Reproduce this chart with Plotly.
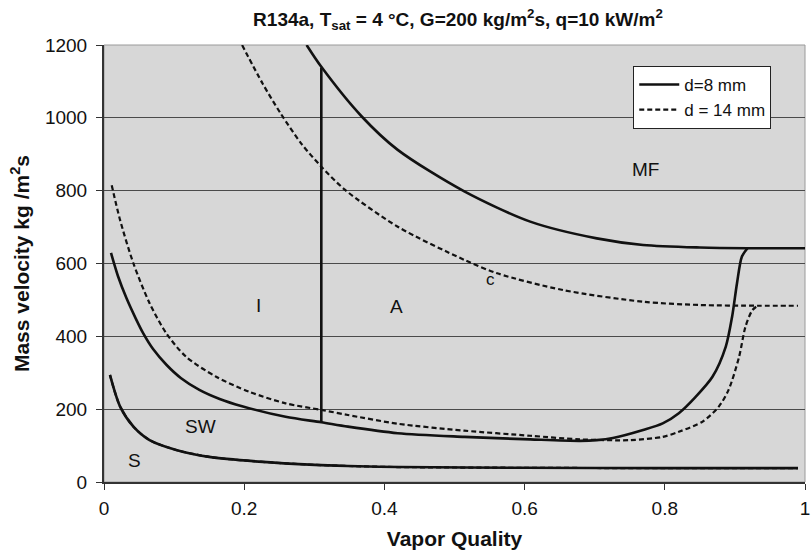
import plotly.graph_objects as go

# ---- data ----
q_sw8 = [0.010, 0.020, 0.032, 0.045, 0.056, 0.070, 0.089, 0.110, 0.136, 0.165, 0.197, 0.259, 0.310,
         0.348, 0.419, 0.514, 0.608, 0.679, 0.703, 0.726, 0.769, 0.797, 0.820, 0.844, 0.868, 0.887,
         0.896, 0.903, 0.910, 0.918]
g_sw8 = [629, 565, 505, 450, 408, 365, 322, 285, 253, 228, 208, 179, 164,
         152, 134, 124, 117, 113, 115, 121, 143, 161, 189, 234, 289, 372,
         454, 546, 619, 642]

q_mf8 = [0.289, 0.310, 0.367, 0.419, 0.514, 0.608, 0.703, 0.769, 0.850, 0.918, 1.000]
g_mf8 = [1200, 1140, 1005, 912, 798, 715, 669, 651, 644, 642, 642]

q_vert = [0.310, 0.310]
g_vert = [164, 1138]

q_sw14 = [0.011, 0.023, 0.042, 0.065, 0.089, 0.117, 0.160, 0.207, 0.259, 0.310, 0.348, 0.419,
          0.514, 0.608, 0.679, 0.750, 0.797, 0.820, 0.854, 0.877, 0.891, 0.906, 0.915, 0.925, 0.934]
g_sw14 = [815, 719, 600, 491, 408, 344, 289, 248, 216, 198, 184, 160,
          141, 127, 117, 115, 124, 138, 166, 207, 253, 344, 426, 472, 486]

q_mf14 = [0.197, 0.226, 0.252, 0.282, 0.310, 0.344, 0.419, 0.514, 0.561, 0.655, 0.769, 0.850, 0.934, 0.990]
g_mf14 = [1200, 1095, 1012, 928, 866, 802, 701, 610, 573, 527, 495, 486, 484, 484]

q_s = [0.0085, 0.023, 0.042, 0.065, 0.103, 0.150, 0.221, 0.301, 0.348, 0.420, 0.600, 0.800, 0.990]
g_s = [294, 207, 152, 115, 88, 69, 56, 47, 44, 41, 39, 38, 38]

region_labels = ["I", "A", "MF", "c", "SW", "S"]
region_q = [0.221, 0.417, 0.772, 0.551, 0.138, 0.044]
region_g = [486, 481, 857, 555, 152, 60]

x_ticks = [0, 0.2, 0.4, 0.6, 0.8, 1]
y_ticks = [0, 200, 400, 600, 800, 1000, 1200]

# ---- styling ----
INK = "#111111"
SOLID = dict(color=INK, width=2.6, shape="spline", smoothing=0.8)
DASH = dict(color=INK, width=2.2, dash="5px,3px", shape="spline", smoothing=0.8)
FONT = "Liberation Sans, Arial, sans-serif"

fig = go.Figure()
fig.add_trace(go.Scatter(x=q_s, y=g_s, mode="lines", line=SOLID, showlegend=False, hoverinfo="skip"))
fig.add_trace(go.Scatter(x=q_s, y=g_s, mode="lines", line=DASH, showlegend=False, hoverinfo="skip"))
fig.add_trace(go.Scatter(x=q_sw8, y=g_sw8, mode="lines", line=SOLID, name="d=8 mm", showlegend=True))
fig.add_trace(go.Scatter(x=q_mf8, y=g_mf8, mode="lines", line=SOLID, showlegend=False))
fig.add_trace(go.Scatter(x=q_vert, y=g_vert, mode="lines", line=dict(color=INK, width=2.6), showlegend=False))
fig.add_trace(go.Scatter(x=q_sw14, y=g_sw14, mode="lines", line=DASH, name="d = 14 mm", showlegend=True))
fig.add_trace(go.Scatter(x=q_mf14, y=g_mf14, mode="lines", line=DASH, showlegend=False))

for t, xq, yg in zip(region_labels, region_q, region_g):
    fig.add_annotation(x=xq, y=yg, text=t, showarrow=False,
                       font=dict(family=FONT, size=19 if t != "c" else 17, color=INK))

fig.update_layout(
    width=812, height=557,
    margin=dict(l=104, r=2, t=45, b=75),
    paper_bgcolor="white",
    plot_bgcolor="#d7d7d7",
    font=dict(family=FONT, size=19, color=INK),
    title=dict(text="<b>R134a, T<sub>sat</sub> = 4 °C, G=200 kg/m<sup>2</sup>s, q=10 kW/m<sup>2</sup></b>",
               x=0.564, xanchor="center", y=0.965, yanchor="middle",
               font=dict(family=FONT, size=19, color=INK)),
    legend=dict(x=0.755, y=0.952, xanchor="left", yanchor="top",
                bgcolor="white", bordercolor="#222222", borderwidth=1,
                font=dict(family=FONT, size=17, color=INK),
                tracegroupgap=0, itemwidth=40),
    showlegend=True,
)
fig.update_xaxes(range=[0, 1], tickvals=x_ticks, ticktext=[str(v) for v in x_ticks],
                 ticks="outside", ticklen=6, tickcolor="#333", showgrid=False, zeroline=False,
                 showline=True, linecolor="#333", linewidth=2, mirror=False,
                 ticklabeloverflow="allow", ticklabelstandoff=2,
                 title=dict(text="<b>Vapor Quality</b>", font=dict(family=FONT, size=21), standoff=14),
                 tickfont=dict(family=FONT, size=19))
fig.update_yaxes(range=[0, 1200], tickvals=y_ticks,
                 ticks="outside", ticklen=6, tickcolor="#333",
                 showgrid=True, gridcolor="#4a4a4a", gridwidth=1, zeroline=False,
                 showline=True, linecolor="#333", linewidth=2, mirror=False,
                 ticklabelstandoff=5,
                 title=dict(text="<b>Mass velocity kg /m<sup>2</sup>s</b>", font=dict(family=FONT, size=21), standoff=10),
                 tickfont=dict(family=FONT, size=19))
# thin light frame on top/right of plot area
fig.add_shape(type="rect", xref="paper", yref="paper", x0=0, y0=0, x1=1, y1=1,
              line=dict(color="#9a9a9a", width=1), layer="below")

fig.write_html("out.html")
